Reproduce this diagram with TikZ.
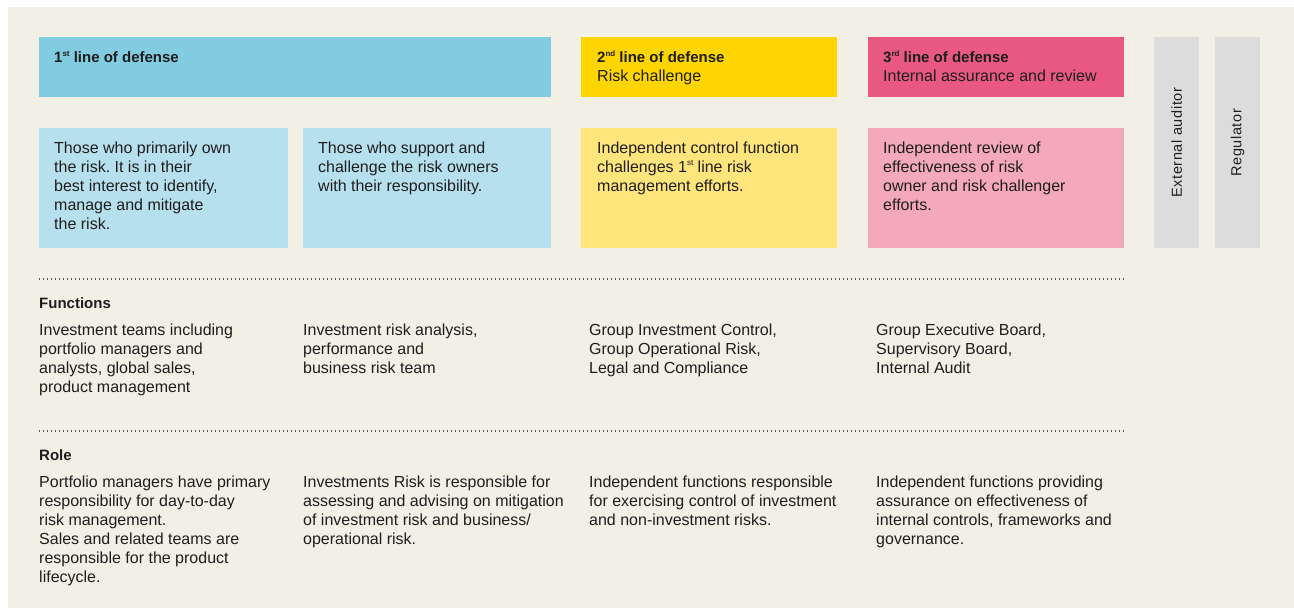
\documentclass[tikz,border=0pt]{standalone}
\usepackage{fontspec}
\setmainfont{Liberation Sans}
\frenchspacing
\definecolor{bgbeige}{HTML}{F2F0E4}
\definecolor{hblue}{HTML}{82CCE2}
\definecolor{lblue}{HTML}{B7E0EE}
\definecolor{hyellow}{HTML}{FFD500}
\definecolor{lyellow}{HTML}{FFE57C}
\definecolor{hpink}{HTML}{E85881}
\definecolor{lpink}{HTML}{F4A9BA}
\definecolor{gcol}{HTML}{DCDCDC}
\definecolor{txt}{HTML}{1E1E1E}
\definecolor{dotc}{HTML}{5A5A5A}
\newcommand\fl{\rule{0pt}{13pt}}
\newcommand\supr[1]{\raisebox{0.42em}{\fontsize{8}{8}\selectfont #1}}
\begin{document}
\begin{tikzpicture}[x=1pt,y=-1pt,
  panel/.style={draw=none,inner sep=0,anchor=north west,minimum width=#1},
  txtnode/.style={inner sep=0,anchor=north west,align=left,text=txt,font=\fontsize{16}{19}\selectfont\frenchspacing},
  headnode/.style={inner sep=0,anchor=north west,align=left,text=txt,font=\fontsize{15}{19}\selectfont\frenchspacing},
  vtext/.style={inner sep=0,rotate=90,text=txt,font=\fontsize{14.5}{18}\selectfont\addfontfeature{LetterSpace=4}},
  dotline/.style={draw=dotc,line width=1.3pt,dash pattern=on 1.3pt off 2.7pt}]
\fill[white] (0,0) rectangle (1294,608);
\useasboundingbox (0,0) rectangle (1294,608);
\fill[bgbeige] (8,7) rectangle (1294,608);
% header panels
\node[panel=512pt,minimum height=60pt,fill=hblue] (h1) at (39,37) {};
\node[panel=256pt,minimum height=60pt,fill=hyellow] (h2) at (581,37) {};
\node[panel=256pt,minimum height=60pt,fill=hpink] (h3) at (868,37) {};
% description panels
\node[panel=249pt,minimum height=120pt,fill=lblue] (b1a) at (39,128) {};
\node[panel=248pt,minimum height=120pt,fill=lblue] (b1b) at (303,128) {};
\node[panel=256pt,minimum height=120pt,fill=lyellow] (b2) at (581,128) {};
\node[panel=256pt,minimum height=120pt,fill=lpink] (b3) at (868,128) {};
% side columns
\node[panel=45pt,minimum height=211pt,fill=gcol] (ext) at (1154,37) {};
\node[panel=45pt,minimum height=211pt,fill=gcol] (reg) at (1215,37) {};
\node[vtext] (extT) at (ext.center) {External auditor};
\node[vtext] (regT) at (reg.center) {Regulator};
% header texts
\node[headnode] (h1T) at (54,49.5) {\fl\textbf{1\supr{st} line of defense}};
\node[headnode] (h2T) at (597,49.5) {\fl\textbf{2\supr{nd} line of defense}\\\fontsize{16}{19}\selectfont Risk challenge};
\node[headnode] (h3T) at (883,49.5) {\fl\textbf{3\supr{rd} line of defense}\\\fontsize{16}{19}\selectfont Internal assurance and review};
% box texts
\node[txtnode] (b1aT) at (54,140.5) {\fl Those who primarily own\\the risk. It is in their\\best interest to identify,\\manage and mitigate\\the risk.};
\node[txtnode] (b1bT) at (318,140.5) {\fl Those who support and\\challenge the risk owners\\with their responsibility.};
\node[txtnode] (b2T) at (597,140.5) {\fl Independent control function\\challenges 1\supr{st} line risk\\management efforts.};
\node[txtnode] (b3T) at (883,140.5) {\fl Independent review of\\effectiveness of risk\\owner and risk challenger\\efforts.};
% dotted separators
\coordinate (d1a) at (39,279);
\coordinate (d1b) at (1125,279);
\coordinate (d2a) at (39,431);
\coordinate (d2b) at (1125,431);
\draw[dotline] (d1a) -- (d1b);
\draw[dotline] (d2a) -- (d2b);
% functions
\node[headnode] (fun) at (39,295.5) {\fl\textbf{Functions}};
\node[txtnode] (f1) at (39,322) {\fl Investment teams including\\portfolio managers and\\analysts, global sales,\\product management};
\node[txtnode] (f2) at (303,322) {\fl Investment risk analysis,\\performance and\\business risk team};
\node[txtnode] (f3) at (589,322) {\fl Group Investment Control,\\Group Operational Risk,\\Legal and Compliance};
\node[txtnode] (f4) at (876,322) {\fl Group Executive Board,\\Supervisory Board,\\Internal Audit};
% role
\node[headnode] (role) at (39,447.5) {\fl\textbf{Role}};
\node[txtnode] (r1) at (39,474) {\fl Portfolio managers have primary\\responsibility for day-to-day\\risk management.\\Sales and related teams are\\responsible for the product\\lifecycle.};
\node[txtnode] (r2) at (303,474) {\fl Investments Risk is responsible for\\assessing and advising on mitigation\\of investment risk and business/\\operational risk.};
\node[txtnode] (r3) at (589,474) {\fl Independent functions responsible\\for exercising control of investment\\and non-investment risks.};
\node[txtnode] (r4) at (876,474) {\fl Independent functions providing\\assurance on effectiveness of\\internal controls, frameworks and\\governance.};
\end{tikzpicture}
\end{document}
